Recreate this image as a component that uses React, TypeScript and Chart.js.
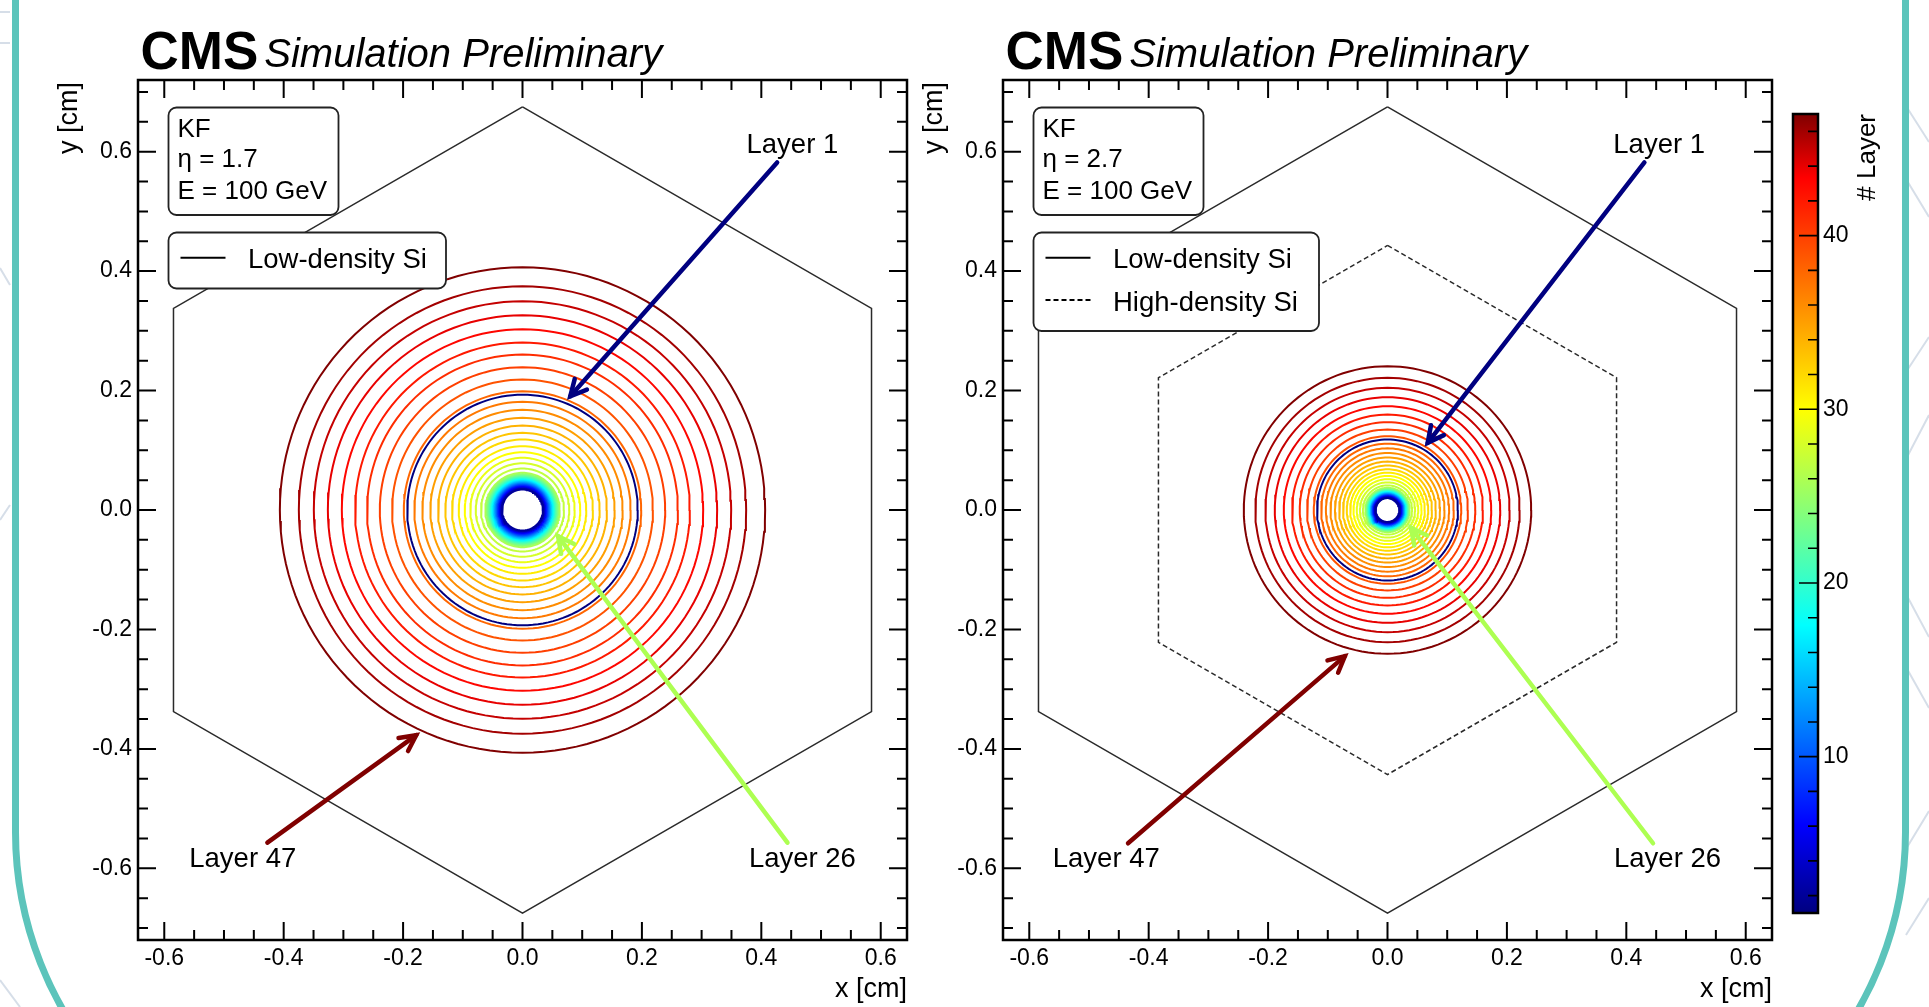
import React, { useEffect, useRef } from "react";
import { Chart, registerables } from "chart.js";
Chart.register(...registerables);

const FONT = "'Liberation Sans', Arial, Helvetica, sans-serif";

// ---------------- data ----------------
const LAYERS = [
  1, 2, 3, 4, 5, 6, 7, 8, 9, 10, 11, 12, 13, 14, 15, 16, 17, 18, 19, 20, 21, 22, 23, 24,
  25, 26, 27, 28, 29, 30, 31, 32, 33, 34, 35, 36, 37, 38, 39, 40, 41, 42, 43, 44, 45, 46, 47,
];
// radius [cm] of each layer's ring, eta = 1.7
const RADII_ETA17 = [
  0.193, 0.0343, 0.0352, 0.0361, 0.0371, 0.0381, 0.0391, 0.0401, 0.0411, 0.0421, 0.0431,
  0.0441, 0.0451, 0.0461, 0.0472, 0.0483, 0.0494, 0.0505, 0.0517, 0.0529, 0.0542, 0.0555,
  0.0569, 0.0584, 0.0601, 0.0623, 0.0695, 0.0783, 0.0874, 0.0967, 0.1068, 0.118, 0.1292,
  0.1414, 0.1543, 0.1677, 0.1811, 0.1988, 0.2184, 0.239, 0.2603, 0.2803, 0.3026, 0.326,
  0.3495, 0.3746, 0.4064,
];
// eta = 2.7
const RADII_ETA27 = [
  0.118, 0.02, 0.0205, 0.0211, 0.0217, 0.0223, 0.0229, 0.0235, 0.0241, 0.0247, 0.0253,
  0.0259, 0.0265, 0.0271, 0.0277, 0.0284, 0.0291, 0.0298, 0.0305, 0.0312, 0.032, 0.0328,
  0.0337, 0.0346, 0.0356, 0.0372, 0.0412, 0.0462, 0.0515, 0.057, 0.0625, 0.0682, 0.0745,
  0.081, 0.088, 0.0955, 0.1032, 0.111, 0.1235, 0.1347, 0.147, 0.1598, 0.1737, 0.1888,
  0.2045, 0.2213, 0.2407,
];
const ETA_VALUES = ["1.7", "2.7"];
const ENERGY = "100 GeV";
const X_RANGE = [-0.644, 0.644];
const Y_RANGE = [-0.72, 0.72];
const X_MAJOR = [-0.6, -0.4, -0.2, 0, 0.2, 0.4, 0.6];
const Y_MAJOR = [-0.6, -0.4, -0.2, 0, 0.2, 0.4, 0.6];
const X_MINOR = [
  -0.6, -0.55, -0.5, -0.45, -0.4, -0.35, -0.3, -0.25, -0.2, -0.15, -0.1, -0.05, 0, 0.05,
  0.1, 0.15, 0.2, 0.25, 0.3, 0.35, 0.4, 0.45, 0.5, 0.55, 0.6,
];
const Y_MINOR = [
  -0.7, -0.65, -0.6, -0.55, -0.5, -0.45, -0.4, -0.35, -0.3, -0.25, -0.2, -0.15, -0.1,
  -0.05, 0, 0.05, 0.1, 0.15, 0.2, 0.25, 0.3, 0.35, 0.4, 0.45, 0.5, 0.55, 0.6, 0.65, 0.7,
];
const LOW_DENSITY_HEX_R = 0.675;
const HIGH_DENSITY_HEX_R = 0.443;
const CBAR_RANGE = [1, 47];
const CBAR_LABELS = [10, 20, 30, 40];
const CBAR_TICKS = [2, 4, 6, 8, 10, 12, 14, 16, 18, 20, 22, 24, 26, 28, 30, 32, 34, 36, 38, 40, 42, 44, 46];
// palette stops (position in colour range, r, g, b)
const PALETTE_STOPS = [
  [0, 0, 0, 128],
  [0.11, 0, 0, 255],
  [0.36, 0, 255, 255],
  [0.63, 255, 255, 0],
  [0.92, 255, 0, 0],
  [1, 128, 0, 0],
];

const ARROWS_ETA17 = [
  { label: "Layer 1", layer: 1, from: [0.4265, 0.582], to: [0.08, 0.1905], text: [0.452, 0.5985] },
  { label: "Layer 47", layer: 47, from: [-0.4273, -0.557], to: [-0.178, -0.377], text: [-0.4685, -0.598] },
  { label: "Layer 26", layer: 26, from: [0.4438, -0.557], to: [0.0596, -0.0438], text: [0.4688, -0.598] },
];
const ARROWS_ETA27 = [
  { label: "Layer 1", layer: 1, from: [0.4303, 0.582], to: [0.0673, 0.1125], text: [0.455, 0.5985] },
  { label: "Layer 47", layer: 47, from: [-0.4346, -0.558], to: [-0.0714, -0.2447], text: [-0.471, -0.598] },
  { label: "Layer 26", layer: 26, from: [0.4447, -0.558], to: [0.0393, -0.0298], text: [0.469, -0.598] },
];

// ---------------- helpers ----------------
function palette(t: number) {
  const tt = Math.max(0, Math.min(1, t));
  for (let i = 1; i < PALETTE_STOPS.length; i++) {
    const a = PALETTE_STOPS[i - 1];
    const b = PALETTE_STOPS[i];
    if (tt <= b[0]) {
      const f = (tt - a[0]) / (b[0] - a[0]);
      const c = (k: number) => Math.round(a[k] + (b[k] - a[k]) * f);
      return `rgb(${c(1)},${c(2)},${c(3)})`;
    }
  }
  const l = PALETTE_STOPS[PALETTE_STOPS.length - 1];
  return `rgb(${l[1]},${l[2]},${l[3]})`;
}
function layerColor(layer: number) {
  return palette((layer - CBAR_RANGE[0]) / (CBAR_RANGE[1] - CBAR_RANGE[0]));
}
function ring(r: number) {
  const pts = [];
  const n = 140;
  for (let i = 0; i <= n; i++) {
    const a = (i / n) * Math.PI * 2;
    pts.push({ x: r * Math.cos(a), y: r * Math.sin(a) });
  }
  return pts;
}
function hexagon(R: number) {
  const pts = [];
  for (let i = 0; i <= 6; i++) {
    const a = Math.PI / 2 - (i * Math.PI) / 3;
    pts.push({ x: R * Math.cos(a), y: R * Math.sin(a) });
  }
  return pts;
}
function arrowHead(from: number[], to: number[]) {
  const len = 0.03;
  const ang = (27 * Math.PI) / 180;
  const dx = to[0] - from[0];
  const dy = to[1] - from[1];
  const d = Math.hypot(dx, dy);
  const ux = dx / d;
  const uy = dy / d;
  const wing = (s: number) => {
    const ca = Math.cos(s * ang);
    const sa = Math.sin(s * ang);
    const rx = -(ux * ca - uy * sa);
    const ry = -(ux * sa + uy * ca);
    return { x: to[0] + rx * len, y: to[1] + ry * len };
  };
  return [wing(1), { x: to[0], y: to[1] }, wing(-1)];
}
function fmt(v: number) {
  const n = Math.abs(v) < 1e-9 ? 0 : v;
  return n.toFixed(1);
}
function roundBox(ctx: CanvasRenderingContext2D, x: number, y: number, w: number, h: number, r: number) {
  ctx.beginPath();
  ctx.moveTo(x + r, y);
  ctx.lineTo(x + w - r, y);
  ctx.arcTo(x + w, y, x + w, y + r, r);
  ctx.lineTo(x + w, y + h - r);
  ctx.arcTo(x + w, y + h, x + w - r, y + h, r);
  ctx.lineTo(x + r, y + h);
  ctx.arcTo(x, y + h, x, y + h - r, r);
  ctx.lineTo(x, y + r);
  ctx.arcTo(x, y, x + r, y, r);
  ctx.closePath();
  ctx.fillStyle = "#fff";
  ctx.fill();
  ctx.strokeStyle = "#222";
  ctx.lineWidth = 1.8;
  ctx.stroke();
}

type Panel = {
  radii: number[];
  eta: string;
  arrows: typeof ARROWS_ETA17;
  highDensity: boolean;
};

function buildDatasets(p: Panel) {
  const ds: any[] = [];
  for (const a of p.arrows) {
    const col = layerColor(a.layer);
    ds.push({
      data: [{ x: a.from[0], y: a.from[1] }, { x: a.to[0], y: a.to[1] }],
      showLine: true, borderColor: col, borderWidth: 4.5, pointRadius: 0, borderCapStyle: "round",
    });
    ds.push({
      data: arrowHead(a.from, a.to),
      showLine: true, borderColor: col, borderWidth: 4.5, pointRadius: 0, borderJoinStyle: "miter", borderCapStyle: "round",
    });
  }
  ds.push({ data: hexagon(LOW_DENSITY_HEX_R), showLine: true, borderColor: "#2a2a2a", borderWidth: 1.5, pointRadius: 0 });
  if (p.highDensity) {
    ds.push({ data: hexagon(HIGH_DENSITY_HEX_R), showLine: true, borderColor: "#2a2a2a", borderWidth: 1.5, borderDash: [5, 3], pointRadius: 0 });
  }
  LAYERS.forEach((L, i) => {
    ds.push({ data: ring(p.radii[i]), showLine: true, borderColor: layerColor(L), borderWidth: 2, pointRadius: 0 });
  });
  return ds;
}

function panelPlugin(p: Panel) {
  return {
    id: "panelDeco",
    afterDatasetsDraw(chart: any) {
      const { ctx, chartArea: a } = chart;
      const xs = chart.scales.x;
      const ys = chart.scales.y;
      ctx.save();
      // arrow labels
      ctx.fillStyle = "#000";
      ctx.font = `27.5px ${FONT}`;
      ctx.textAlign = "center";
      ctx.textBaseline = "alphabetic";
      for (const ar of p.arrows) {
        ctx.fillText(ar.label, xs.getPixelForValue(ar.text[0]), ys.getPixelForValue(ar.text[1]));
      }
      // info box
      roundBox(ctx, 168.5, 107.5, 170, 107.5, 8);
      ctx.fillStyle = "#000";
      ctx.font = `26px ${FONT}`;
      ctx.textAlign = "left";
      ctx.fillText("KF", 177.5, 136.7);
      ctx.fillText(`η = ${p.eta}`, 177.5, 166.7);
      ctx.fillText(`E = ${ENERGY}`, 177.5, 199);
      // legend
      const entries = p.highDensity
        ? [{ t: "Low-density Si", dash: [] }, { t: "High-density Si", dash: [5, 3] }]
        : [{ t: "Low-density Si", dash: [] }];
      roundBox(ctx, 168.5, 232.5, p.highDensity ? 285.5 : 277.5, 56 + (entries.length - 1) * 42.5, 8);
      entries.forEach((e, i) => {
        const yy = 257.7 + i * 42.3;
        ctx.beginPath();
        ctx.setLineDash(e.dash);
        ctx.strokeStyle = "#000";
        ctx.lineWidth = 2;
        ctx.moveTo(180.5, yy);
        ctx.lineTo(225.5, yy);
        ctx.stroke();
        ctx.setLineDash([]);
        ctx.fillStyle = "#000";
        ctx.font = `27.5px ${FONT}`;
        ctx.fillText(e.t, 248, yy + 10.6);
      });
      // ticks
      ctx.strokeStyle = "#000";
      ctx.lineWidth = 2;
      ctx.beginPath();
      for (const v of X_MINOR) {
        const px = xs.getPixelForValue(v);
        const len = X_MAJOR.some((m) => Math.abs(m - v) < 1e-6) ? 18 : 10;
        ctx.moveTo(px, a.bottom);
        ctx.lineTo(px, a.bottom - len);
        ctx.moveTo(px, a.top);
        ctx.lineTo(px, a.top + len);
      }
      for (const v of Y_MINOR) {
        const py = ys.getPixelForValue(v);
        const len = Y_MAJOR.some((m) => Math.abs(m - v) < 1e-6) ? 18 : 10;
        ctx.moveTo(a.left, py);
        ctx.lineTo(a.left + len, py);
        ctx.moveTo(a.right, py);
        ctx.lineTo(a.right - len, py);
      }
      ctx.stroke();
      // frame
      ctx.lineWidth = 2.5;
      ctx.strokeRect(a.left, a.top, a.right - a.left, a.bottom - a.top);
      ctx.restore();
    },
    afterDraw(chart: any) {
      const { ctx, chartArea: a } = chart;
      ctx.save();
      ctx.fillStyle = "#000";
      ctx.textAlign = "left";
      ctx.textBaseline = "alphabetic";
      ctx.font = `bold 53px ${FONT}`;
      ctx.fillText("CMS", 140.5, 69);
      const w = ctx.measureText("CMS").width;
      ctx.font = `italic 40px ${FONT}`;
      ctx.fillText("Simulation Preliminary", 140.5 + w + 6, 67);
      // axis titles
      ctx.font = `27px ${FONT}`;
      ctx.textAlign = "right";
      ctx.textBaseline = "middle";
      ctx.fillText("x [cm]", a.right, 990);
      ctx.translate(70, a.top + 2);
      ctx.rotate(-Math.PI / 2);
      ctx.fillText("y [cm]", 0, 0);
      ctx.restore();
    },
  };
}

function makePanel(canvas: HTMLCanvasElement, p: Panel) {
  return new Chart(canvas, {
    type: "scatter",
    data: { datasets: buildDatasets(p) },
    options: {
      animation: false,
      responsive: false,
      events: [],
      layout: { padding: { left: 0, right: 53, top: 80, bottom: 7 } },
      plugins: { legend: { display: false }, tooltip: { enabled: false }, title: { display: false } },
      elements: { line: { tension: 0, fill: false } },
      scales: {
        x: {
          type: "linear",
          min: X_RANGE[0],
          max: X_RANGE[1],
          position: "bottom",
          grid: { display: false, drawTicks: false },
          border: { display: false },
          afterBuildTicks: (s: any) => { s.ticks = X_MAJOR.map((v) => ({ value: v })); },
          afterFit: (s: any) => { s.height = 60; },
          ticks: { font: { family: FONT, size: 23 }, color: "#000", padding: 5, maxRotation: 0, autoSkip: false, callback: (v: any) => fmt(Number(v)) },
        },
        y: {
          type: "linear",
          min: Y_RANGE[0],
          max: Y_RANGE[1],
          position: "left",
          grid: { display: false, drawTicks: false },
          border: { display: false },
          afterBuildTicks: (s: any) => { s.ticks = Y_MAJOR.map((v) => ({ value: v })); },
          afterFit: (s: any) => { s.width = 138; },
          ticks: { font: { family: FONT, size: 23 }, color: "#000", padding: 6, autoSkip: false, callback: (v: any) => fmt(Number(v)) },
        },
      },
    } as any,
    plugins: [panelPlugin(p) as any],
  });
}

function makeColorbar(canvas: HTMLCanvasElement) {
  return new Chart(canvas, {
    type: "bar",
    data: {
      labels: ["# Layer"],
      datasets: [
        {
          data: [[CBAR_RANGE[0], CBAR_RANGE[1]]] as any,
          borderWidth: 0,
          barPercentage: 1,
          categoryPercentage: 1,
          backgroundColor: (c: any) => {
            const ch = c.chart;
            const ys = ch.scales.y;
            if (!ch.chartArea || !ys) return "#888";
            const g = ch.ctx.createLinearGradient(0, ys.getPixelForValue(CBAR_RANGE[0]), 0, ys.getPixelForValue(CBAR_RANGE[1]));
            for (const s of PALETTE_STOPS) g.addColorStop(s[0], `rgb(${s[1]},${s[2]},${s[3]})`);
            return g;
          },
        },
      ],
    },
    options: {
      animation: false,
      responsive: false,
      events: [],
      layout: { padding: { left: 33, right: 0, top: 114, bottom: 94 } },
      plugins: { legend: { display: false }, tooltip: { enabled: false } },
      scales: {
        x: { display: false },
        y: {
          position: "right",
          min: CBAR_RANGE[0],
          max: CBAR_RANGE[1],
          grid: { display: false, drawTicks: false },
          border: { display: false },
          afterBuildTicks: (s: any) => { s.ticks = CBAR_LABELS.map((v) => ({ value: v })); },
          afterFit: (s: any) => { s.width = 111; },
          ticks: { font: { family: FONT, size: 23 }, color: "#000", padding: 5, autoSkip: false },
        },
      },
    } as any,
    plugins: [
      {
        id: "cbarDeco",
        afterDatasetsDraw(chart: any) {
          const { ctx, chartArea: a } = chart;
          const ys = chart.scales.y;
          ctx.save();
          ctx.strokeStyle = "#000";
          ctx.lineWidth = 1.6;
          ctx.beginPath();
          for (const v of CBAR_TICKS) {
            const py = ys.getPixelForValue(v);
            const len = CBAR_LABELS.includes(v) ? 19 : 10;
            ctx.moveTo(a.right, py);
            ctx.lineTo(a.right - len, py);
          }
          ctx.stroke();
          ctx.lineWidth = 2.5;
          ctx.strokeRect(a.left, a.top, a.right - a.left, a.bottom - a.top);
          ctx.fillStyle = "#000";
          ctx.font = `26px ${FONT}`;
          ctx.textAlign = "right";
          ctx.textBaseline = "middle";
          ctx.translate(108, a.top);
          ctx.rotate(-Math.PI / 2);
          ctx.fillText("# Layer", 0, 0);
          ctx.restore();
        },
      } as any,
    ],
  });
}

const PANELS: Panel[] = [
  { radii: RADII_ETA17, eta: ETA_VALUES[0], arrows: ARROWS_ETA17, highDensity: false },
  { radii: RADII_ETA27, eta: ETA_VALUES[1], arrows: ARROWS_ETA27, highDensity: true },
];

const DECO_LINES = [
  [1906, 106, 1929, 142], [1906, 179, 1929, 217], [1906, 372, 1929, 337], [1906, 459, 1929, 415],
  [1906, 594, 1929, 637], [1906, 667, 1929, 708], [1906, 849, 1929, 811], [1906, 935, 1929, 898],
  [0, 12, 10, 12], [0, 43, 10, 43], [0, 268, 10, 285], [0, 520, 10, 505], [0, 980, 20, 1007],
];

export default function App() {
  const leftRef = useRef<HTMLCanvasElement>(null);
  const rightRef = useRef<HTMLCanvasElement>(null);
  const cbarRef = useRef<HTMLCanvasElement>(null);
  useEffect(() => {
    const charts: Chart[] = [];
    if (leftRef.current) charts.push(makePanel(leftRef.current, PANELS[0]));
    if (rightRef.current) charts.push(makePanel(rightRef.current, PANELS[1]));
    if (cbarRef.current) charts.push(makeColorbar(cbarRef.current));
    return () => charts.forEach((c) => c.destroy());
  }, []);
  return (
    <div style={{ position: "fixed", left: 0, top: 0, width: 1929, height: 1007, overflow: "hidden", background: "#fff" }}>
      <svg width={1929} height={1007} style={{ position: "absolute", left: 0, top: 0 }}>
        {DECO_LINES.map((l, i) => (
          <line key={i} x1={l[0]} y1={l[1]} x2={l[2]} y2={l[3]} stroke="#d6dee8" strokeWidth={2} />
        ))}
      </svg>
      <div
        style={{
          position: "absolute", left: 12, top: -400, width: 1897, height: 1592, boxSizing: "border-box",
          border: "7px solid #5cc4bb", borderRadius: 360, background: "#fff",
        }}
      />
      <canvas ref={leftRef} width={960} height={1007} style={{ position: "absolute", left: 0, top: 0 }} />
      <canvas ref={rightRef} width={960} height={1007} style={{ position: "absolute", left: 865, top: 0 }} />
      <canvas ref={cbarRef} width={169} height={1007} style={{ position: "absolute", left: 1760, top: 0 }} />
    </div>
  );
}
